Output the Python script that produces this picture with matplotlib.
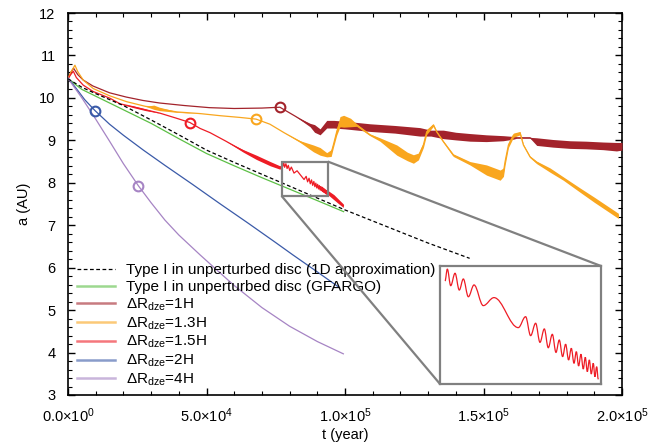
import numpy as np
import matplotlib
matplotlib.use("Agg")
import matplotlib.pyplot as plt
from matplotlib.lines import Line2D
from matplotlib.path import Path
from matplotlib.patches import PathPatch
from mpl_toolkits.axes_grid1.inset_locator import mark_inset

plt.rcParams['font.family'] = ['Liberation Sans', 'DejaVu Sans']
plt.rcParams['mathtext.fontset'] = 'custom'
plt.rcParams['mathtext.rm'] = 'Liberation Sans'
plt.rcParams['mathtext.it'] = 'Liberation Sans:italic'
plt.rcParams['mathtext.bf'] = 'Liberation Sans:bold'

# ---- data (t in years, a in AU, w = half width of the noisy band)
t_1d = [0, 5e3, 1e4, 2e4, 3e4, 4e4, 5e4, 6e4, 7e4, 8e4, 9e4, 1e5, 1.1e5, 1.2e5, 1.3e5, 1.45e5]
a_1d = [10.45, 10.25, 10.1, 9.82, 9.48, 9.13, 8.77, 8.48, 8.2, 7.92, 7.64, 7.36, 7.1, 6.84, 6.58, 6.22]

t_gf = [0, 5e3, 1e4, 2e4, 3e4, 4e4, 5e4, 6e4, 7e4, 8e4, 9e4, 9.95e4]
a_gf = [10.45, 10.2, 10.04, 9.72, 9.4, 9.04, 8.69, 8.4, 8.12, 7.85, 7.58, 7.32]

t_1h = [0, 1e3, 2e3, 3.5e3, 5.5e3, 9e3, 1.5e4, 2.1e4, 2.7e4, 3.3e4, 4.2e4, 5.1e4, 6e4, 7e4,
        7.65e4, 8.2e4, 8.74e4, 8.9e4, 9.1e4, 9.34e4, 9.6e4, 1.0e5, 1.09e5, 1.18e5, 1.27e5,
        1.31e5, 1.355e5, 1.4e5, 1.451e5, 1.51e5, 1.571e5, 1.61e5, 1.62e5, 1.668e5, 1.692e5,
        1.75e5, 1.812e5, 1.87e5, 1.932e5, 1.98e5, 2.0e5]
a_1h = [10.45, 10.6, 10.7, 10.55, 10.42, 10.28, 10.12, 10.02, 9.94, 9.88, 9.82, 9.77, 9.75, 9.76,
        9.78, 9.57, 9.36, 9.28, 9.2, 9.38, 9.38, 9.36, 9.30, 9.26, 9.20,
        9.17, 9.14, 9.1, 9.07, 9.05, 9.05, 9.06, 9.06, 9.06, 8.97,
        8.93, 8.9, 8.89, 8.87, 8.85, 8.86]
w_1h = [0] * 16 + [0.04, 0.09, 0.07, 0.09, 0.09, 0.09, 0.09, 0.09, 0.1,
                   0.07, 0.1, 0.09, 0.09, 0.08, 0.06, 0.03, 0.01, 0.01, 0.09,
                   0.09, 0.09, 0.09, 0.09, 0.1, 0.09]

t_13h = [0, 1e3, 2.5e3, 3.5e3, 5.5e3, 9.1e3, 1.5e4, 2.12e4, 2.8e4, 3.1e4, 3.3e4, 3.92e4, 4.77e4,
         5.5e4, 6.2e4, 6.79e4, 7.29e4, 7.8e4, 8.38e4, 8.86e4, 9.1e4, 9.34e4, 9.5e4, 9.58e4,
         9.7e4, 9.82e4, 9.95e4, 1.02e5, 1.042e5, 1.09e5, 1.126e5, 1.187e5, 1.225e5, 1.247e5,
         1.265e5, 1.283e5, 1.295e5, 1.319e5, 1.331e5, 1.355e5, 1.391e5, 1.451e5, 1.511e5,
         1.56e5, 1.572e5, 1.578e5, 1.59e5, 1.608e5, 1.632e5, 1.644e5, 1.668e5, 1.692e5,
         1.74e5, 1.788e5, 1.848e5, 1.9e5, 1.987e5]
a_13h = [10.45, 10.6, 10.77, 10.62, 10.42, 10.22, 10.05, 9.91, 9.8, 9.78, 9.74, 9.67, 9.63,
         9.58, 9.54, 9.50, 9.38, 9.18, 8.97, 8.81, 8.74, 8.66, 8.7, 8.89,
         9.20, 9.44, 9.45, 9.42, 9.36, 9.13, 9.02, 8.77, 8.62, 8.56,
         8.62, 8.89, 9.20, 9.36, 9.20, 8.97, 8.65, 8.46, 8.30,
         8.18, 8.25, 8.50, 8.89, 9.12, 9.17, 8.89, 8.61, 8.48,
         8.3, 8.10, 7.83, 7.6, 7.22]
w_13h = [0, 0, 0, 0, 0, 0, 0, 0, 0, 0.05, 0.04, 0.01, 0,
         0, 0, 0, 0, 0, 0.02, 0.08, 0.09, 0.05, 0.08, 0.06,
         0.08, 0.12, 0.14, 0.1, 0.03, 0.02, 0.04, 0.12, 0.1, 0.1,
         0.08, 0.06, 0.06, 0.03, 0.02, 0.02, 0.03, 0.04, 0.12,
         0.12, 0.1, 0.08, 0.06, 0.05, 0.04, 0.02, 0.02, 0.03,
         0.05, 0.04, 0.05, 0.06, 0.06]

# 1.5H: smooth part, dense band, then the oscillation extrema seen in the inset, then band again
t_15h = [0, 1e3, 1.9e3, 3e3, 5.5e3, 9.1e3, 1.52e4, 1.88e4, 2.36e4, 2.8e4, 3.32e4, 3.92e4, 4.4e4,
         4.77e4, 5.13e4, 5.7e4, 6.33e4, 6.8e4, 7.3e4, 7.65e4,
         7.762e4, 7.786e4, 7.821e4, 7.866e4, 7.910e4, 7.952e4, 8.004e4, 8.063e4, 8.159e4,
         8.270e4, 8.522e4, 8.598e4, 8.650e4, 8.702e4, 8.747e4, 8.792e4, 8.833e4,
         8.875e4, 8.913e4, 8.947e4, 8.982e4, 9.013e4, 9.044e4, 9.072e4, 9.100e4, 9.124e4,
         9.148e4, 9.172e4, 9.196e4, 9.217e4, 9.238e4, 9.259e4, 9.279e4, 9.300e4, 9.317e4,
         9.335e4, 9.352e4,
         9.4e4, 9.6e4, 9.8e4, 9.94e4]
a_15h = [10.45, 10.55, 10.63, 10.48, 10.30, 10.15, 9.99, 9.86, 9.79, 9.72, 9.64, 9.52, 9.42,
         9.28, 9.18, 8.98, 8.75, 8.6, 8.45, 8.36,
         8.397, 8.479, 8.365, 8.450, 8.335, 8.411, 8.289, 8.370, 8.228,
         8.283, 8.077, 8.152, 8.022, 8.107, 7.976, 8.068, 7.939,
         8.031, 7.907, 7.992, 7.878, 7.963, 7.855, 7.935, 7.832, 7.912,
         7.814, 7.894, 7.793, 7.873, 7.775, 7.855, 7.759, 7.832, 7.740,
         7.809, 7.722,
         7.76, 7.66, 7.54, 7.46]
w_15h = [0, 0, 0, 0, 0, 0, 0, 0, 0.02, 0.02, 0, 0, 0,
         0, 0, 0, 0.03, 0.05, 0.05, 0.04] + [0] * 37 + [0.05, 0.06, 0.05, 0.04]

t_2h = [0, 3e3, 6e3, 9.75e3, 1.5e4, 2e4, 2.72e4, 3.5e4, 4.5e4, 5.5e4, 6.5e4, 7.5e4, 8.12e4, 9e4, 9.8e4]
a_2h = [10.47, 10.22, 9.96, 9.70, 9.38, 9.12, 8.77, 8.41, 7.96, 7.50, 7.05, 6.59, 6.30, 5.90, 5.53]

t_4h = [0, 5e3, 1e4, 1.5e4, 2e4, 2.54e4, 3e4, 3.5e4, 4e4, 4.77e4, 5.5e4, 6e4, 7e4, 8e4, 9e4, 9.94e4]
a_4h = [10.46, 10.0, 9.5, 8.98, 8.45, 7.93, 7.53, 7.12, 6.77, 6.30, 5.87, 5.58, 5.06, 4.62, 4.26, 3.97]

# open circles marking a point on each curve
mark_t = [7.65e4, 6.79e4, 4.4e4, 9.75e3, 2.54e4]
mark_a = [9.78, 9.50, 9.42, 9.70, 7.93]

labels = ['Type I in unperturbed disc (1D approximation)',
          'Type I in unperturbed disc (GFARGO)',
          r'$\Delta$R$_{\rm dze}$=1H', r'$\Delta$R$_{\rm dze}$=1.3H',
          r'$\Delta$R$_{\rm dze}$=1.5H', r'$\Delta$R$_{\rm dze}$=2H',
          r'$\Delta$R$_{\rm dze}$=4H']
xtick_vals = [0, 5e4, 1e5, 1.5e5, 2e5]
xtick_labels = [r'0.0$\times$10$^{0}$', r'5.0$\times$10$^{4}$', r'1.0$\times$10$^{5}$',
                r'1.5$\times$10$^{5}$', r'2.0$\times$10$^{5}$']
zoom_t = (7.71e4, 9.38e4)
zoom_a = (7.69, 8.50)

c_dark = '#a3232b'
c_orange = '#f9a61e'
c_red = '#ee1c25'
c_blue = '#3a5aa8'
c_purple = '#a684c4'
c_green = '#5cbf45'
mark_colors = [c_dark, c_orange, c_red, c_blue, c_purple]

fig = plt.figure(figsize=(6.48, 4.43), dpi=100)
ax = fig.add_axes([68 / 648, 1 - 395 / 443, 554 / 648, 382 / 443])


def draw_series(axis, t, a, w, color, lw=0.9):
    t = np.asarray(t)
    a = np.asarray(a)
    w = np.asarray(w)
    axis.plot(t, a, color=color, lw=lw, zorder=3)
    axis.fill_between(t, a - w, a + w, color=color, lw=0, zorder=3)


ax.plot(t_1d, a_1d, color='black', lw=0.9, ls=(0, (3, 2)), zorder=4)
ax.plot(t_gf, a_gf, color=c_green, lw=0.9, zorder=3)
draw_series(ax, t_1h, a_1h, w_1h, c_dark)
draw_series(ax, t_13h, a_13h, w_13h, c_orange)
draw_series(ax, t_15h, a_15h, w_15h, c_red)
ax.plot(t_2h, a_2h, color=c_blue, lw=0.9, zorder=3)
ax.plot(t_4h, a_4h, color=c_purple, lw=0.9, zorder=3)

for tm, am, cm in zip(mark_t, mark_a, mark_colors):
    ax.plot(tm, am, 'o', ms=7, mfc='none', mec=cm, mew=1.5, zorder=5)

ax.set_xlim(0, 2e5)
ax.set_ylim(3, 12)
ax.set_xticks(xtick_vals)
ax.set_xticklabels(xtick_labels)
ax.set_xticks(np.arange(0, 2.0001e5, 1e4), minor=True)
ax.set_yticks(np.arange(3, 13, 1))
ax.set_yticks(np.arange(3, 12.001, 0.2), minor=True)
ax.tick_params(which='both', direction='in', top=True, right=True, labelsize=10.5)
ax.tick_params(which='major', length=5, width=1)
ax.tick_params(which='minor', length=3, width=0.8)
ax.tick_params(axis='y', pad=9)
ax.tick_params(axis='x', pad=8.5)
for sp in ax.spines.values():
    sp.set_linewidth(1.2)
ax.set_xlabel('t (year)', fontsize=10.5, labelpad=2)
ax.set_ylabel('a (AU)', fontsize=10.5, labelpad=6)

handles = [Line2D([], [], color='black', lw=0.9, ls=(0, (3, 2))),
           Line2D([], [], color=c_green, lw=1.8, alpha=0.6),
           Line2D([], [], color=c_dark, lw=1.8, alpha=0.6),
           Line2D([], [], color=c_orange, lw=1.8, alpha=0.6),
           Line2D([], [], color=c_red, lw=1.8, alpha=0.6),
           Line2D([], [], color=c_blue, lw=1.8, alpha=0.6),
           Line2D([], [], color=c_purple, lw=1.8, alpha=0.6)]
ax.legend(handles, labels, loc='lower left', bbox_to_anchor=(0.016, 0.018), frameon=False,
          fontsize=11, handlelength=2.5, handletextpad=0.7, labelspacing=0.16,
          borderpad=0, borderaxespad=0)

# zoomed inset of the 1.5H oscillations, drawn as a smooth curve through the extrema
axins = fig.add_axes([440 / 648, 1 - 384 / 443, 161 / 648, 118 / 443])
t15 = np.asarray(t_15h)
a15 = np.asarray(a_15h)
sel = (t15 >= 7.75e4) & (t15 <= 9.36e4)
ts, as_ = t15[sel], a15[sel]
verts = [(ts[0], as_[0])]
codes = [Path.MOVETO]
for i in range(1, len(ts)):
    dt = ts[i] - ts[i - 1]
    verts += [(ts[i - 1] + 0.36 * dt, as_[i - 1]), (ts[i] - 0.36 * dt, as_[i]), (ts[i], as_[i])]
    codes += [Path.CURVE4] * 3
axins.add_patch(PathPatch(Path(verts, codes), fill=False, ec=c_red, lw=0.9))
axins.set_xlim(*zoom_t)
axins.set_ylim(*zoom_a)
axins.set_xticks([])
axins.set_yticks([])
for sp in axins.spines.values():
    sp.set_color('0.5')
    sp.set_linewidth(1.6)
mark_inset(ax, axins, loc1=1, loc2=3, fc='none', ec='0.5', lw=1.6, zorder=6)

fig.savefig('out.png', dpi=100)
